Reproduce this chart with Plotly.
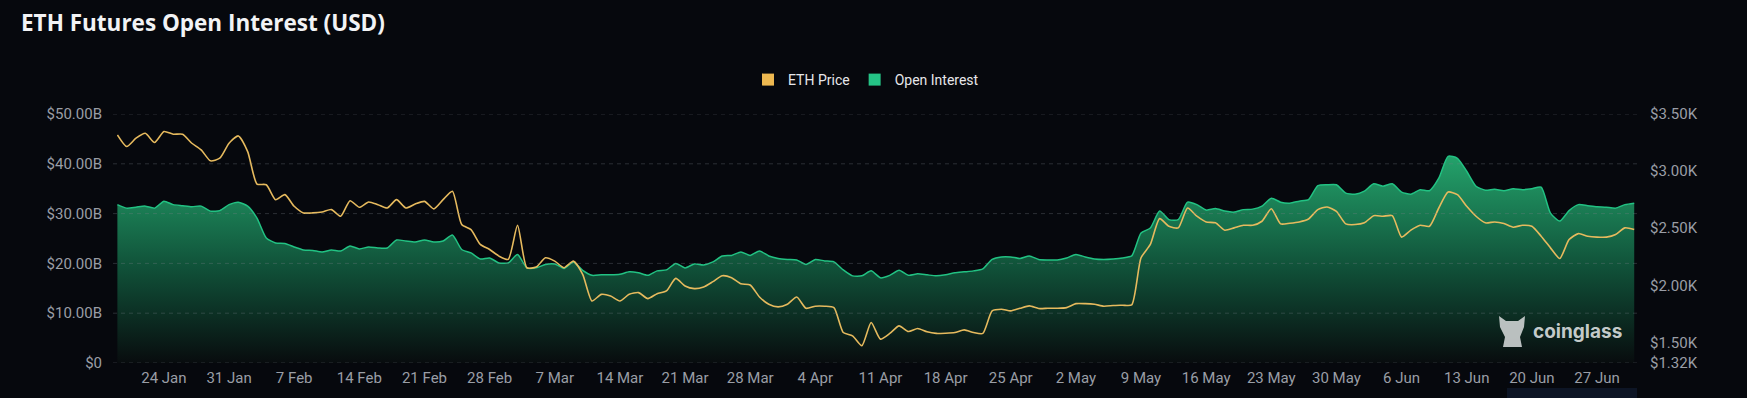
import pandas as pd
import plotly.graph_objects as go

# ---------------- data ----------------
start_date = "2025-01-19"
end_date = "2025-07-01"

open_interest_b = [
    31.8, 31.1, 31.3, 31.5, 31.1, 32.5, 31.8, 31.6, 31.4, 31.5,
    30.5, 30.6, 31.8, 32.3, 31.5, 29.1, 25.1, 24.1, 24.0, 23.3,
    22.7, 22.6, 22.3, 22.7, 22.5, 23.5, 22.9, 23.3, 23.1, 23.1,
    24.7, 24.5, 24.3, 24.7, 24.3, 24.5, 25.7, 22.8, 22.1, 20.9,
    21.1,
    20.1, 20.1, 21.8, 19.1, 19.1, 19.8, 19.9, 19.0, 20.3, 18.6,
    17.6, 17.7, 17.7, 17.8, 18.3, 18.1, 17.6, 18.5, 18.7, 20.0,
    19.1, 19.9, 19.7, 20.3, 21.5, 21.6, 22.3, 21.6, 22.5, 21.5,
    21.0, 20.8, 20.7, 19.8, 20.8, 20.5, 20.3, 18.7, 17.5, 17.5,
    18.5, 17.1, 17.6, 18.6, 17.6, 17.9, 17.7, 17.5, 17.7, 18.1,
    18.3, 18.5, 18.9, 20.8, 21.3, 21.3, 21.0, 21.5, 20.8, 20.7,
    20.7, 21.1, 21.8, 21.3, 20.9, 20.8, 20.9, 21.1, 21.5, 26.1,
    27.1, 30.5, 28.8, 28.8, 32.3, 31.8, 30.7, 31.0, 30.5, 30.3,
    30.8,
    30.9, 31.5, 33.1, 32.3, 32.1, 32.5, 32.8, 35.6, 35.8, 35.8,
    34.1, 33.9, 34.5, 36.0, 35.5, 36.0, 34.3, 33.9, 34.8, 34.6,
    37.1, 41.5, 41.1, 38.5, 35.5, 34.7, 34.9, 34.6, 35.0, 34.8,
    35.0, 35.3, 30.1, 28.5, 30.6, 31.8, 31.6, 31.4, 31.3, 31.1,
    31.8, 32.1,
]

eth_price = [
    3317, 3215, 3288, 3331, 3250, 3346, 3323, 3323, 3244, 3186,
    3090, 3113, 3244, 3308, 3171, 2887, 2881, 2750, 2794, 2692,
    2634, 2634, 2642, 2663, 2605, 2741, 2683, 2730, 2706, 2677,
    2750, 2677, 2712, 2735, 2669, 2750, 2823, 2532, 2488, 2358,
    2314,
    2256, 2227, 2526, 2154, 2160, 2241, 2212, 2154, 2212, 2096,
    1863, 1921, 1907, 1863, 1921, 1936, 1884, 1927, 1951, 2061,
    1994, 1971, 1985, 2032, 2084, 2067, 2014, 2003, 1898, 1834,
    1811, 1834, 1898, 1799, 1817, 1817, 1805, 1587, 1558, 1471,
    1674, 1529, 1579, 1645, 1596, 1622, 1593, 1579, 1581, 1587,
    1610, 1587, 1579, 1776, 1791, 1776, 1799, 1820, 1797, 1799,
    1799, 1805, 1840, 1840, 1834, 1817, 1823, 1826, 1829, 2241,
    2358, 2584, 2517, 2503, 2677, 2605, 2555, 2547, 2483, 2503,
    2526,
    2526, 2561, 2671, 2538, 2544, 2555, 2581, 2663, 2686, 2648,
    2538, 2532, 2547, 2610, 2605, 2610, 2422, 2483, 2526, 2517,
    2677, 2817, 2794, 2692, 2605, 2547, 2555, 2541, 2509, 2526,
    2517, 2430, 2328, 2235, 2401, 2453, 2430, 2422, 2422, 2445,
    2503, 2488,
]

x_tick_dates = pd.date_range("2025-01-24", "2025-06-27", freq="7D")
x_tick_labels = [f"{d.day} {d.strftime('%b')}" for d in x_tick_dates]

left_tick_vals = [0, 10e9, 20e9, 30e9, 40e9, 50e9]
left_tick_text = ["$0", "$10.00B", "$20.00B", "$30.00B", "$40.00B", "$50.00B"]
right_tick_vals = [1320, 1500, 2000, 2500, 3000, 3500]
right_tick_text = ["$1.32K", "$1.50K", "$2.00K", "$2.50K", "$3.00K", "$3.50K"]

# ---------------- figure ----------------
dates = pd.date_range(start_date, end_date, freq="D")
oi_values = [v * 1e9 for v in open_interest_b]

BG = "#06080d"
TICK_COLOR = "#9a9ea6"
GRID_COLOR = "rgba(120,126,138,0.32)"
GOLD = "#E6BA5E"
GREEN = "#22C283"
TICK_FONT = dict(family="Roboto, sans-serif", size=15, color=TICK_COLOR)

fig = go.Figure()

fig.add_trace(go.Scatter(
    x=dates, y=oi_values, name="Open Interest", yaxis="y",
    mode="lines", line=dict(color=GREEN, width=1.5, shape="spline", smoothing=0.6),
    fill="tozeroy",
    fillgradient=dict(
        type="vertical", start=0, stop=42e9,
        colorscale=[[0, "rgb(8,12,14)"], [0.45, "rgb(16,80,56)"], [1, "rgb(36,164,108)"]],
    ),
    showlegend=False, hoverinfo="skip",
))

fig.add_trace(go.Scatter(
    x=dates, y=eth_price, name="ETH Price", yaxis="y2",
    mode="lines", line=dict(color=GOLD, width=1.6, shape="spline", smoothing=0.6),
    showlegend=False, hoverinfo="skip",
))

# legend entries (square swatches)
fig.add_trace(go.Scatter(
    x=[None], y=[None], name="ETH Price", mode="markers",
    marker=dict(symbol="square", size=12, color="#EDB850"), showlegend=True,
))
fig.add_trace(go.Scatter(
    x=[None], y=[None], name="Open Interest", mode="markers",
    marker=dict(symbol="square", size=12, color="#25C486"), showlegend=True,
))

W, H = 1747, 398
L, R, T, B = 117, 112, 114, 35
PW = W - L - R
PH = H - T - B


def px_x(px):
    return (px - L) / PW


def px_y(py):
    return (H - B - py) / PH


grid_shapes = [
    dict(type="line", xref="paper", yref="y", x0=px_x(113), x1=px_x(1639), y0=v, y1=v,
         line=dict(color=GRID_COLOR, width=1, dash="4px,4px"), layer="above")
    for v in left_tick_vals
]

fig.update_layout(
    width=W, height=H,
    margin=dict(l=L, r=R, t=T, b=B, pad=0),
    paper_bgcolor=BG, plot_bgcolor=BG,
    hovermode=False,
    title=dict(
        text="<b>ETH Futures Open Interest (USD)</b>",
        font=dict(family="Open Sans, sans-serif", size=22.5, color="#f2f3f5"),
        x=21 / W, xanchor="left", xref="container",
        y=1 - 23 / H, yanchor="middle", yref="container",
    ),
    legend=dict(
        orientation="h", x=0.5 - 10 / PW, xanchor="center", y=px_y(80), yanchor="middle",
        font=dict(family="Roboto, sans-serif", size=14, color="#e6e7ea"),
        bgcolor="rgba(0,0,0,0)", itemwidth=30, itemclick=False,
    ),
    xaxis=dict(
        type="date",
        range=[pd.Timestamp(start_date) - pd.Timedelta(hours=1), pd.Timestamp(end_date) + pd.Timedelta(hours=2)],
        tickvals=x_tick_dates, ticktext=x_tick_labels,
        tickfont=TICK_FONT, showgrid=False, zeroline=False, showline=False,
        ticks="", ticklabelstandoff=4,
    ),
    yaxis=dict(
        range=[0, 50e9], tickvals=left_tick_vals, ticktext=left_tick_text,
        tickfont=TICK_FONT, showgrid=False,
        zeroline=False, showline=False, ticks="", ticklabelstandoff=14,
    ),
    yaxis2=dict(
        range=[1320, 3500], tickvals=right_tick_vals, ticktext=right_tick_text,
        overlaying="y", side="right", tickfont=TICK_FONT, showgrid=False,
        zeroline=False, showline=False, ticks="", ticklabelstandoff=14,
    ),
    shapes=grid_shapes + [
        # coinglass mascot (approximate silhouette)
        dict(type="path", xref="paper", yref="paper",
             path=(f"M {px_x(1499)},{px_y(316)} L {px_x(1506)},{px_y(321)} "
                   f"L {px_x(1518)},{px_y(321)} L {px_x(1525)},{px_y(316)} "
                   f"L {px_x(1524)},{px_y(327)} L {px_x(1520)},{px_y(337)} "
                   f"L {px_x(1522)},{px_y(347)} L {px_x(1503)},{px_y(347)} "
                   f"L {px_x(1505)},{px_y(337)} L {px_x(1500)},{px_y(327)} Z"),
             fillcolor="rgba(205,210,210,0.9)", line=dict(width=0), layer="above"),
        # page UI strip bottom-right
        dict(type="rect", xref="paper", yref="paper",
             x0=px_x(1507), x1=px_x(1637), y0=px_y(398), y1=px_y(388),
             fillcolor="#0d1525", line=dict(width=0), layer="above"),
    ],
    annotations=[
        dict(text="<b>coinglass</b>", xref="paper", yref="paper",
             x=px_x(1531), y=px_y(331), xanchor="left", yanchor="middle",
             showarrow=False,
             font=dict(family="Inter, sans-serif", size=19, color="rgba(215,220,220,0.92)")),
    ],
)

fig.write_html(
    "out.html",
    config={"displayModeBar": False},
    post_script="document.body.style.margin='0px';document.body.style.overflow='hidden';",
)
